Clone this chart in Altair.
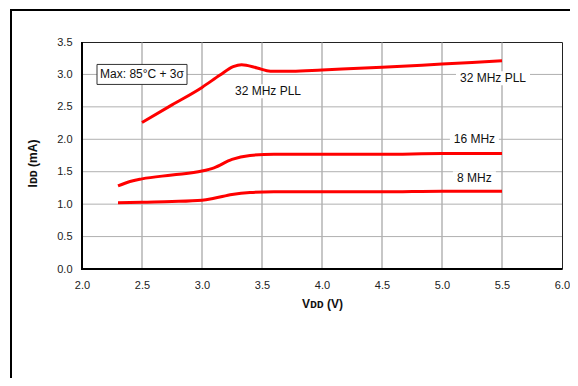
import altair as alt
import pandas as pd

# ---- data ----
vdd_32 = [2.5, 2.75, 3.0, 3.15, 3.26, 3.33, 3.46, 3.57, 3.75, 4.0, 4.5, 5.0, 5.5]
idd_32 = [2.26, 2.53, 2.80, 2.99, 3.12, 3.15, 3.10, 3.05, 3.05, 3.07, 3.11, 3.16, 3.21]
vdd_16 = [2.3, 2.4, 2.5, 2.75, 3.0, 3.1, 3.25, 3.4, 3.6, 4.0, 4.5, 5.0, 5.5]
idd_16 = [1.28, 1.35, 1.39, 1.45, 1.51, 1.56, 1.69, 1.75, 1.77, 1.77, 1.77, 1.78, 1.78]
vdd_8 = [2.3, 2.5, 2.75, 3.0, 3.1, 3.25, 3.4, 3.6, 4.0, 4.5, 5.0, 5.5]
idd_8 = [1.02, 1.03, 1.04, 1.06, 1.09, 1.15, 1.18, 1.19, 1.19, 1.19, 1.20, 1.20]
series_names = ["32 MHz PLL", "16 MHz", "8 MHz"]

x_ticks = [2.0, 2.5, 3.0, 3.5, 4.0, 4.5, 5.0, 5.5, 6.0]
y_ticks = [0.0, 0.5, 1.0, 1.5, 2.0, 2.5, 3.0, 3.5]

label_text = ["32 MHz PLL", "32 MHz PLL", "16 MHz", "8 MHz"]
label_vdd = [3.55, 5.425, 5.27, 5.27]
label_idd = [2.74, 2.94, 2.0, 1.40]

note_text = ["Max: 85°C + 3σ"]
note_vdd = [2.5]
note_idd = [3.0]

# ---- tables ----
rows = []
for name, xs, ys in zip(series_names, [vdd_32, vdd_16, vdd_8], [idd_32, idd_16, idd_8]):
    for i, (xv, yv) in enumerate(zip(xs, ys)):
        rows.append({"series": name, "vdd": xv, "idd": yv, "order": i})
df = pd.DataFrame(rows)
labels = pd.DataFrame({"text": label_text, "vdd": label_vdd, "idd": label_idd})
notes = pd.DataFrame({"text": note_text, "vdd": note_vdd, "idd": note_idd})

# grid lines built from the tick arrays (two end points each)
vrows, hrows = [], []
for k, v in enumerate(x_ticks[1:-1]):
    vrows += [{"g": f"v{k}", "vdd": v, "idd": y_ticks[0], "order": 0},
              {"g": f"v{k}", "vdd": v, "idd": y_ticks[-1], "order": 1}]
for k, h in enumerate(y_ticks[1:-1]):
    hrows += [{"g": f"h{k}", "vdd": x_ticks[0], "idd": h, "order": 0},
              {"g": f"h{k}", "vdd": x_ticks[-1], "idd": h, "order": 1}]
vgrid_df = pd.DataFrame(vrows)
hgrid_df = pd.DataFrame(hrows)
one = pd.DataFrame({"a": [0]})

FONT = "Liberation Sans"

x_enc = alt.X(
    "vdd:Q",
    scale=alt.Scale(domain=[2, 6], nice=False, zero=False),
    axis=alt.Axis(values=x_ticks, format=".1f", title="Vᴅᴅ (V)", titleY=34,
                  titleBaseline="middle", grid=False,
                  labelFlush=False, labelOverlap=False),
)
y_enc = alt.Y(
    "idd:Q",
    scale=alt.Scale(domain=[0, 3.5], nice=False, zero=False),
    axis=alt.Axis(values=y_ticks, format=".1f", title="Iᴅᴅ (mA)", titleX=-50, titleY=121,
                  titleAngle=270, titleAlign="center", titleBaseline="middle",
                  grid=False, labelFlush=False, labelOverlap=False),
)

vgrid = alt.Chart(vgrid_df).mark_line(strokeWidth=1, color="#8f8f8f").encode(
    x=x_enc, y=y_enc, detail="g:N", order="order:Q"
)
hgrid = alt.Chart(hgrid_df).mark_line(strokeWidth=1, color="#b0b0b0").encode(
    x=x_enc, y=y_enc, detail="g:N", order="order:Q"
)

lines = alt.Chart(df).mark_line(strokeWidth=3, interpolate="monotone").encode(
    x=x_enc, y=y_enc, detail="series:N", order="order:Q", color=alt.value("#ff0000")
)

def box(data, w, h, **kw):
    return alt.Chart(data).mark_rect(
        xOffset=-w / 2, x2Offset=w / 2, yOffset=-h / 2, y2Offset=h / 2, **kw
    ).encode(x=x_enc, x2="vdd", y=y_enc, y2="idd")

bgs = [
    box(labels.iloc[[0]], 72, 14, fill="white"),
    box(labels.iloc[[1]], 74, 14, fill="white"),
    box(labels.iloc[[2]], 49, 14, fill="white"),
    box(labels.iloc[[3]], 43, 14, fill="white"),
]

label_marks = alt.Chart(labels).mark_text(
    font=FONT, fontSize=12, color="#111111", align="center", baseline="middle"
).encode(x=x_enc, y=y_enc, text="text:N")

note_box = box(notes, 90, 20, fill="white", stroke="#333333", strokeWidth=1)
note_marks = alt.Chart(notes).mark_text(
    font=FONT, fontSize=12, color="#111111", align="center", baseline="middle"
).encode(x=x_enc, y=y_enc, text="text:N")

frame_top = alt.Chart(one).mark_rule(color="black", strokeWidth=2).encode(
    x=alt.value(-72), x2=alt.value(496), y=alt.value(-32)
)
frame_left = alt.Chart(one).mark_rule(color="black", strokeWidth=2).encode(
    x=alt.value(-71), y=alt.value(-33), y2=alt.value(340)
)
plot_left = alt.Chart(one).mark_rule(color="black", strokeWidth=2).encode(
    x=alt.value(0), y=alt.value(0), y2=alt.value(228)
)
plot_bottom = alt.Chart(one).mark_rule(color="black", strokeWidth=2).encode(
    x=alt.value(-1), x2=alt.value(480), y=alt.value(227)
)

chart = alt.layer(
    vgrid, hgrid, *bgs, lines, label_marks, note_box, note_marks,
    frame_top, frame_left, plot_left, plot_bottom
).properties(
    width=480, height=227,
    autosize=alt.AutoSizeParams(type="none"),
    padding={"left": 74, "top": 34, "right": 8, "bottom": 109},
    background="white",
).configure_view(
    stroke="#222222", strokeWidth=1
).configure_axis(
    domain=False, ticks=False, tickSize=0, labelPadding=10,
    labelFont=FONT, labelFontSize=11, labelColor="#222222",
    titleFont=FONT, titleFontSize=12, titleFontWeight="bold", titleColor="#111111",
)

chart.save("out.html", embed_options={"renderer": "svg", "actions": False})
